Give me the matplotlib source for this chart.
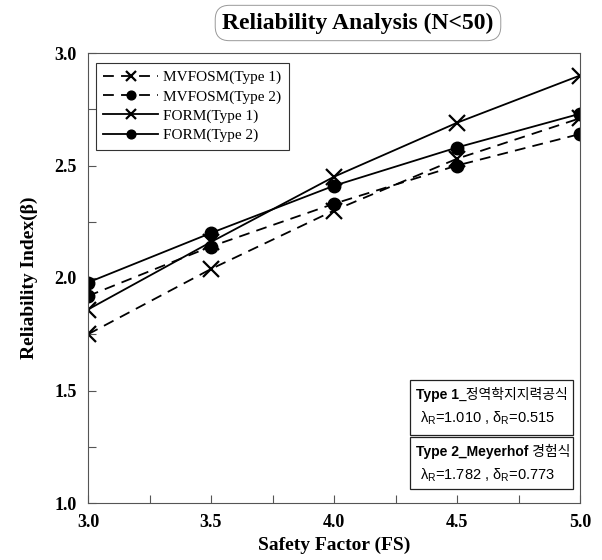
import matplotlib
matplotlib.use("Agg")
import matplotlib.pyplot as plt
from matplotlib.patches import Rectangle

# data
fs = [3.0, 3.5, 4.0, 4.5, 5.0]
mvfosm_t1 = [1.75, 2.04, 2.30, 2.53, 2.71]
mvfosm_t2 = [1.92, 2.14, 2.33, 2.50, 2.64]
form_t1 = [1.86, 2.16, 2.45, 2.69, 2.90]
form_t2 = [1.98, 2.20, 2.41, 2.58, 2.73]
labels = ['MVFOSM(Type 1)', 'MVFOSM(Type 2)', 'FORM(Type 1)', 'FORM(Type 2)']
xticks = [3.0, 3.5, 4.0, 4.5, 5.0]
yticks = [1.0, 1.5, 2.0, 2.5, 3.0]

serif = ['Liberation Serif', 'DejaVu Serif']
sans = ['Liberation Sans', 'DejaVu Sans']
kr = ['Noto Sans CJK KR', 'DejaVu Sans']

fig = plt.figure(figsize=(6.02, 5.6), dpi=100)
ax = fig.add_axes([88/602, 1-503/560, 492/602, 450/560])

dash = (0, (6, 4))
ax.plot(fs, mvfosm_t1, color='black', ls=dash, lw=1.3, marker='x', ms=11, mew=1.6, label=labels[0])
ax.plot(fs, mvfosm_t2, color='black', ls=dash, lw=1.3, marker='o', ms=9, label=labels[1])
ax.plot(fs, form_t1, color='black', ls='-', lw=1.3, marker='x', ms=11, mew=1.6, label=labels[2])
ax.plot(fs, form_t2, color='black', ls='-', lw=1.3, marker='o', ms=9, label=labels[3])

ax.set_xlim(3.0, 5.0)
ax.set_ylim(1.0, 3.0)
ax.set_xticks(xticks)
ax.set_yticks(yticks)
ax.set_xticks([3.25, 3.75, 4.25, 4.75], minor=True)
ax.set_yticks([1.25, 1.75, 2.25, 2.75], minor=True)
ax.tick_params(which='both', direction='in', length=6, width=0.8, color='#555555')
ax.tick_params(which='minor', labelleft=False, labelbottom=False)
ax.tick_params(which='major', pad=8)
for lab in ax.get_xticklabels() + ax.get_yticklabels():
    lab.set_fontfamily(serif)
    lab.set_fontweight('bold')
    lab.set_fontsize(13)
for sp in ax.spines.values():
    sp.set_color('#555555')
    sp.set_linewidth(0.8)

ax.set_xlabel('Safety Factor (FS)', fontfamily=serif, fontweight='bold', fontsize=14, labelpad=4)
ax.set_ylabel('Reliability Index(β)', fontfamily=serif, fontweight='bold', fontsize=14, labelpad=12)

leg = ax.legend(loc='upper left', bbox_to_anchor=(0.0, 0.995), prop={'family': serif, 'size': 11},
                handlelength=3.6, fancybox=False, edgecolor='#333333', framealpha=1,
                borderpad=0.5, labelspacing=0.35, handletextpad=0.3, markerscale=0.7)
leg.get_frame().set_linewidth(0.8)

fig.text(358/602, 1-23/560, 'Reliability Analysis (N<50)', fontfamily=serif, fontweight='bold',
         fontsize=17, ha='center', va='center',
         bbox=dict(boxstyle='round,pad=0.3,rounding_size=0.6', fc='white', ec='#999999', lw=0.7))

# info boxes: (bold part, regular part, second line, top, height)
boxes = [
    ('Type 1', '_정역학지지력공식', r'$\mathregular{\lambda_R}$=1.010 , $\mathregular{\delta_R}$=0.515', 0.273, 0.122),
    ('Type 2_Meyerhof', ' 경험식', r'$\mathregular{\lambda_R}$=1.782 , $\mathregular{\delta_R}$=0.773', 0.146, 0.114),
]
x0, x1 = 0.655, 0.985
for bold, rest, line2, ytop, h in boxes:
    ax.add_patch(Rectangle((x0, ytop - h), x1 - x0, h, transform=ax.transAxes,
                           fill=True, fc='white', ec='#222222', lw=0.9, zorder=5))
    t = ax.text(x0 + 0.012, ytop - 0.032, bold, transform=ax.transAxes, fontfamily=sans,
                fontweight='bold', fontsize=10, va='center', zorder=6)
    fig.canvas.draw()
    bb = t.get_window_extent().transformed(ax.transAxes.inverted())
    ax.text(bb.x1, ytop - 0.032, rest, transform=ax.transAxes, fontfamily=kr,
            fontsize=10, va='center', zorder=6)
    ax.text(x0 + 0.02, ytop - 0.084, line2, transform=ax.transAxes, fontfamily=sans,
            fontsize=10.5, va='center', zorder=6)

fig.savefig('out.png', dpi=100)
